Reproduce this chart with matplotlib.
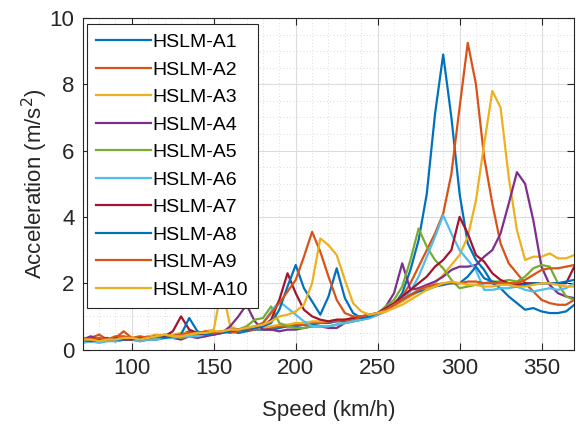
import numpy as np
import matplotlib
matplotlib.use("Agg")
import matplotlib.pyplot as plt
from matplotlib.ticker import MultipleLocator

plt.rcParams['font.family'] = ['Liberation Sans', 'DejaVu Sans']

speed = list(range(70, 371, 5))

a1 = [0.25,0.3,0.25,0.3,0.25,0.3,0.3,0.35,0.3,0.35,0.4,0.35,0.45,0.55,0.45,0.5,0.45,0.5,0.55,0.5,0.55,0.6,0.6,
      0.6,0.65,0.7,0.7,0.75,0.75,0.8,0.8,0.85,0.85,0.9,0.95,1.0,
      1.05,1.15,1.35,1.7,2.4,3.3,4.7,7.1,8.9,7.0,4.7,3.2,2.7,2.4,2.0,1.85,1.6,1.4,1.2,1.25,1.15,1.1,1.1,1.15,1.35]
a2 = [0.3,0.35,0.45,0.3,0.35,0.55,0.35,0.3,0.4,0.35,0.4,0.35,0.4,0.45,0.45,0.4,0.5,0.55,0.5,0.55,0.6,0.6,0.65,
      0.65,0.7,0.7,0.75,0.75,0.8,0.8,0.85,0.85,0.9,0.9,0.95,1.0,
      1.1,1.2,1.35,1.6,2.0,2.5,3.0,3.5,4.1,5.3,7.3,9.25,8.0,5.8,4.4,3.2,2.6,2.3,2.0,1.75,1.5,1.4,1.35,1.35,1.5]
a3 = [0.25,0.3,0.3,0.25,0.3,0.3,0.35,0.35,0.4,0.45,0.4,0.45,0.5,0.5,0.45,0.55,0.6,1.9,0.7,0.6,0.6,0.65,0.65,
      0.7,0.75,0.75,0.8,0.8,0.85,0.85,0.85,0.9,0.9,0.95,1.0,1.0,
      1.05,1.15,1.3,1.45,1.6,1.75,1.85,2.0,2.25,2.55,2.85,3.4,4.5,6.2,7.8,7.3,5.2,3.6,2.7,2.8,2.8,2.9,2.75,2.75,2.85]
a4 = [0.3,0.4,0.3,0.35,0.25,0.3,0.3,0.25,0.3,0.3,0.35,0.35,0.3,0.4,0.35,0.4,0.45,0.5,0.7,1.0,1.35,0.85,0.6,
      0.6,0.55,0.6,0.6,0.65,0.7,0.7,0.65,0.65,0.8,0.85,0.9,0.95,
      1.05,1.3,1.7,2.6,1.8,1.85,1.95,2.05,2.2,2.4,2.5,2.5,2.55,2.8,3.0,3.5,4.4,5.35,5.0,3.9,2.5,1.95,1.7,1.6,1.55]
a5 = [0.25,0.3,0.3,0.3,0.3,0.35,0.3,0.3,0.35,0.35,0.4,0.4,0.35,0.4,0.45,0.45,0.5,0.55,0.6,0.6,0.7,0.9,0.95,
      1.3,0.8,0.7,0.65,0.65,0.7,0.7,0.7,0.75,0.8,0.85,0.9,1.0,
      1.1,1.3,1.5,1.9,2.7,3.65,3.1,2.7,2.45,2.1,1.85,1.9,1.95,2.0,2.05,2.05,2.1,2.05,2.2,2.45,2.55,2.5,2.0,1.6,1.5]
a6 = [0.2,0.25,0.2,0.25,0.25,0.3,0.3,0.25,0.3,0.3,0.35,0.35,0.4,0.4,0.4,0.45,0.5,0.5,0.55,0.6,0.6,0.65,0.8,
      1.15,1.45,1.25,1.05,0.85,0.7,0.7,0.7,0.75,0.8,0.85,0.9,0.95,
      1.05,1.2,1.35,1.55,1.75,2.2,2.8,3.4,4.05,3.5,3.0,2.7,2.4,1.8,1.8,1.85,1.85,1.9,1.8,1.75,1.8,1.85,1.8,1.85,2.0]
a7 = [0.3,0.25,0.3,0.3,0.35,0.3,0.3,0.35,0.35,0.4,0.4,0.55,1.0,0.6,0.5,0.45,0.5,0.55,0.55,0.6,0.6,0.65,0.7,
      0.9,1.5,2.3,1.7,1.2,1.0,0.9,0.85,0.9,0.9,0.95,1.0,1.05,
      1.1,1.25,1.4,1.6,1.8,2.0,2.2,2.5,2.7,3.0,4.0,3.5,2.85,2.65,2.3,2.1,2.0,1.95,2.0,2.0,2.0,2.0,2.0,2.0,2.5]
a8 = [0.3,0.25,0.3,0.3,0.3,0.3,0.35,0.3,0.35,0.4,0.35,0.4,0.45,0.95,0.55,0.45,0.5,0.5,0.55,0.6,0.6,0.65,0.7,
      0.8,1.2,1.9,2.55,1.85,1.45,1.05,1.6,2.45,1.55,1.1,0.95,1.0,
      1.1,1.2,1.35,1.5,1.65,1.75,1.8,1.9,1.95,2.0,2.0,2.2,2.5,2.15,2.05,2.0,1.95,1.9,1.95,2.0,2.0,2.0,2.0,2.05,2.1]
a9 = [0.35,0.3,0.35,0.3,0.4,0.4,0.35,0.4,0.35,0.4,0.45,0.4,0.45,0.5,0.5,0.55,0.5,0.55,0.6,0.6,0.65,0.7,0.8,
      1.1,1.4,1.75,2.1,2.8,3.55,2.95,2.2,1.5,1.1,1.0,1.0,1.05,
      1.1,1.2,1.35,1.5,1.65,1.8,1.9,1.95,2.0,2.0,2.0,2.05,2.05,2.0,2.0,2.0,2.0,2.0,2.1,2.25,2.4,2.45,2.45,2.5,2.55]
a10 = [0.3,0.3,0.25,0.3,0.3,0.35,0.35,0.3,0.35,0.4,0.45,0.4,0.4,0.45,0.5,0.5,0.55,0.55,0.6,0.6,0.65,0.7,0.75,
       0.85,1.0,1.05,1.15,1.35,2.0,3.35,3.15,2.85,2.1,1.4,1.15,1.05,
       1.1,1.15,1.25,1.35,1.5,1.65,1.8,1.9,2.0,2.05,2.0,1.95,1.95,1.9,1.9,1.95,1.95,1.9,1.9,1.95,2.0,2.0,1.95,1.9,1.9]

series = [a1, a2, a3, a4, a5, a6, a7, a8, a9, a10]
labels = ["HSLM-A%d" % i for i in range(1, 11)]
colors = ["#0072BD", "#D95319", "#EDB120", "#7E2F8E", "#77AC30",
          "#4DBEEE", "#A2142F", "#0072BD", "#D95319", "#EDB120"]

fig = plt.figure(figsize=(5.76, 4.25), dpi=100)
ax = fig.add_axes([0.1436, 0.1776, 0.8534, 0.78])

for y, lab, c in zip(series, labels, colors):
    ax.plot(speed, y, color=c, lw=1.6, label=lab)

ax.set_xlim(70, 370)
ax.set_ylim(0, 10)
ax.xaxis.set_major_locator(MultipleLocator(50))
ax.xaxis.set_minor_locator(MultipleLocator(10))
ax.yaxis.set_major_locator(MultipleLocator(2))
ax.yaxis.set_minor_locator(MultipleLocator(0.5))
ax.grid(True, which='major', color='#dcdcdc', lw=0.8)
ax.grid(True, which='minor', color='#d0d0d0', lw=0.6, ls=(0, (1, 3)))
ax.set_axisbelow(True)
ax.tick_params(which='major', direction='in', top=True, right=True, length=5,
               width=0.8, labelsize=16, colors='#262626', pad=6)
ax.tick_params(which='minor', length=0, top=True, right=True)
for s in ax.spines.values():
    s.set_color('#262626')
    s.set_linewidth(0.8)

ax.set_xlabel("Speed (km/h)", fontsize=16, color='#262626', labelpad=15)
ax.set_ylabel("Acceleration (m/s$^2$)", fontsize=16, color='#262626', labelpad=0)

leg = ax.legend(loc='upper left', bbox_to_anchor=(0.008, 0.983), fontsize=14,
                frameon=True, fancybox=False, edgecolor='#262626', framealpha=1,
                handlelength=2.8, handletextpad=0.1, labelspacing=0.51,
                borderpad=0.5, borderaxespad=0.0)
leg.get_frame().set_linewidth(0.8)

fig.savefig("out.png", dpi=100)
